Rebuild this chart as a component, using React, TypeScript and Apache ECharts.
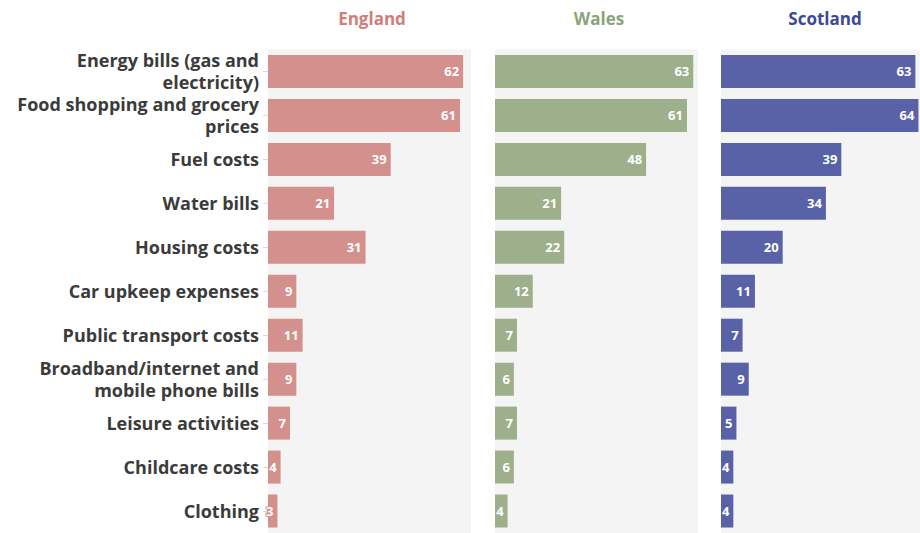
import React, { useEffect, useRef } from "react";
import * as echarts from "echarts";

const categories = [
  "Energy bills (gas and\nelectricity)",
  "Food shopping and grocery\nprices",
  "Fuel costs",
  "Water bills",
  "Housing costs",
  "Car upkeep expenses",
  "Public transport costs",
  "Broadband/internet and\nmobile phone bills",
  "Leisure activities",
  "Childcare costs",
  "Clothing",
];
const englandValues = [62, 61, 39, 21, 31, 9, 11, 9, 7, 4, 3];
const walesValues = [63, 61, 48, 21, 22, 12, 7, 6, 7, 6, 4];
const scotlandValues = [63, 64, 39, 34, 20, 11, 7, 9, 5, 4, 4];
const panelNames = ["England", "Wales", "Scotland"];

const FONT = "'Open Sans', Lato, sans-serif";
const barColors = ["#d4908d", "#9db08b", "#5962a6"];
const titleColors = ["#d07d7b", "#8aa37a", "#3b4898"];
const gridLefts = [268, 495, 721];
const GRID_W = 203;

export default function App() {
  const ref = useRef<HTMLDivElement>(null);
  useEffect(() => {
    if (!ref.current) return;
    const chart = echarts.init(ref.current, undefined, { renderer: "svg" });
    const values = [englandValues, walesValues, scotlandValues];
    const grids = gridLefts.map((l) => ({
      left: l,
      width: GRID_W,
      top: 49.5,
      bottom: -4,
      show: true,
      backgroundColor: "#f4f4f4",
      borderWidth: 0,
      containLabel: false,
    }));
    const xAxes = gridLefts.map((_, i) => ({
      type: "value",
      gridIndex: i,
      min: 0,
      max: 64.5,
      show: false,
    }));
    const yAxes = gridLefts.map((_, i) => ({
      type: "category",
      gridIndex: i,
      data: categories,
      inverse: true,
      axisLine: { show: false },
      axisTick: {
        show: i === 0,
        alignWithLabel: true,
        length: 5,
        lineStyle: { color: "#d8d8d8" },
      },
      splitLine: { show: false },
      axisLabel: {
        show: i === 0,
        margin: 9,
        color: "#3b3b3b",
        fontFamily: FONT,
        fontWeight: "bold",
        fontSize: 18,
        lineHeight: 22,
        align: "right",
      },
    }));
    const series = values.map((v, i) => ({
      type: "bar",
      xAxisIndex: i,
      yAxisIndex: i,
      data: v,
      barWidth: 33,
      itemStyle: { color: barColors[i] },
      label: {
        show: true,
        position: "insideRight",
        distance: 4,
        color: "#ffffff",
        fontFamily: FONT,
        fontWeight: "bold",
        fontSize: 13,
        textBorderColor: barColors[i],
        textBorderWidth: 2,
      },
    }));
    const graphic = panelNames.map((n, i) => ({
      type: "text",
      x: gridLefts[i] + 104,
      y: 18,
      style: {
        text: n,
        fill: titleColors[i],
        font: `bold 17px ${FONT}`,
        textAlign: "center",
        textVerticalAlign: "middle",
      },
    }));
    chart.setOption({
      animation: false,
      grid: grids,
      xAxis: xAxes,
      yAxis: yAxes,
      series,
      graphic,
    });
    return () => chart.dispose();
  }, []);
  return (
    <div
      ref={ref}
      style={{ position: "fixed", left: 0, top: 0, width: 920, height: 533, background: "#fff" }}
    />
  );
}
